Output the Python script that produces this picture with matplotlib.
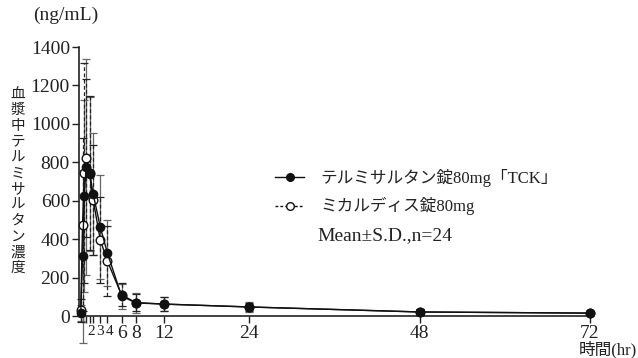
import matplotlib.pyplot as plt
import matplotlib.transforms as mtrans
from matplotlib.lines import Line2D

# 時間(hr)
t = [0.25, 0.5, 0.75, 1, 1.5, 2, 3, 4, 6, 8, 12, 24, 48, 72]
# テルミサルタン錠80mg「TCK」
tck_mean = [15, 312, 625, 775, 740, 635, 463, 328, 104, 68, 62, 47, 21, 15]
tck_sd = [40, 450, 500, 560, 400, 318, 271, 172, 65, 50, 38, 25, 15, 10]
# ミカルディス錠80mg
mic_mean = [30, 474, 745, 822, 745, 604, 396, 286, 110, 70, 62, 47, 21, 15]
mic_sd = [60, 450, 573, 411, 400, 286, 224, 182, 60, 45, 35, 22, 14, 10]

xticks = [0.5, 1, 1.5, 2, 3, 4, 6, 8, 12, 24, 48, 72]
xlabels = ['', '', '', '2', '3', '4', '6', '8', '12', '24', '48', '72']
yticks = [0, 200, 400, 600, 800, 1000, 1200, 1400]

serif = ['Liberation Serif', 'Noto Sans CJK JP']
jp = ['Noto Sans CJK JP', 'Liberation Serif']
txtc = '#222222'

fig = plt.figure(figsize=(6.38, 3.58), dpi=100)
ax = fig.add_axes([0.1238, 0.1173, 0.8010, 0.7514])

# 誤差棒
eb1 = ax.errorbar(t, tck_mean, yerr=tck_sd, fmt='none', ecolor='#666666',
                  elinewidth=0.9, capsize=3, capthick=0.9, zorder=2)
eb2 = ax.errorbar(t, mic_mean, yerr=mic_sd, fmt='none', ecolor='#222222',
                  elinewidth=0.9, capsize=3, capthick=0.9, zorder=2)
for c in eb1.lines[2] + eb1.lines[1]:
    c.set_clip_on(False)
for c in eb2.lines[2]:
    c.set_linestyle((0, (3, 2)))
    c.set_clip_on(False)
for c in eb2.lines[1]:
    c.set_clip_on(False)

l2, = ax.plot(t, mic_mean, color='#111111', lw=1.0, marker='o', ms=6.2,
              mfc='white', mec='#111111', mew=1.0, clip_on=False, zorder=3)
l1, = ax.plot(t, tck_mean, color='#111111', lw=1.0, marker='o', ms=6,
              mfc='#111111', mec='#111111', clip_on=False, zorder=4)

ax.set_xlim(0, 72)
ax.set_ylim(0, 1400)
ax.set_xticks(xticks)
ax.set_xticklabels(xlabels)
ax.set_yticks(yticks)
ax.spines['top'].set_visible(False)
ax.spines['right'].set_visible(False)
for s in ['left', 'bottom']:
    ax.spines[s].set_linewidth(1.2)
    ax.spines[s].set_color('#222222')
ax.tick_params(axis='both', direction='out', length=5, width=1.0,
               colors='#222222', labelsize=14, pad=1.5)
for lab in ax.get_xticklabels() + ax.get_yticklabels():
    lab.set_family(serif)
    lab.set_color(txtc)

# 2,3,4 は詰まっているので少し小さく
shifts = {'2': -2.0, '3': 0.0, '4': 2.0}
for lab in ax.get_xticklabels():
    s = lab.get_text()
    if s in shifts:
        lab.set_fontsize(11)
        lab.set_transform(lab.get_transform() +
                          mtrans.ScaledTranslation(shifts[s] / 100, 0,
                                                   fig.dpi_scale_trans))

# 凡例
h1 = Line2D([], [], color='#111111', lw=1.0, marker='o', ms=5.5,
            mfc='#111111', mec='#111111')
h2 = Line2D([], [], color='#111111', lw=1.0, ls=(0, (2, 1.5)), marker='o',
            ms=5.5, mfc='white', mec='#111111')
leg = fig.legend([h1, h2], ['テルミサルタン錠80mg「TCK」', 'ミカルディス錠80mg'],
                 loc='upper left', bbox_to_anchor=(0.4075, 0.57), frameon=False,
                 handlelength=1.75, handletextpad=1.0, labelspacing=0.62,
                 prop={'family': serif, 'size': 12})
for tx in leg.get_texts():
    tx.set_color(txtc)
fig.text(0.497, 0.341, 'Mean±S.D.,n=24', family=serif, fontsize=14,
         color=txtc, va='center')

# 軸ラベル
fig.text(0.052, 0.958, '(ng/mL)', family=serif, fontsize=14, color=txtc,
         va='center')
fig.text(0.028, 0.494, '\n'.join('血漿中テルミサルタン濃度'), family=jp,
         fontsize=10.5, color=txtc, ha='center', va='center', linespacing=1.16)
fig.text(0.998, 0.0, '時間(hr)', family=serif, fontsize=12, color=txtc,
         ha='right', va='bottom')

fig.savefig('out.png', dpi=100)
